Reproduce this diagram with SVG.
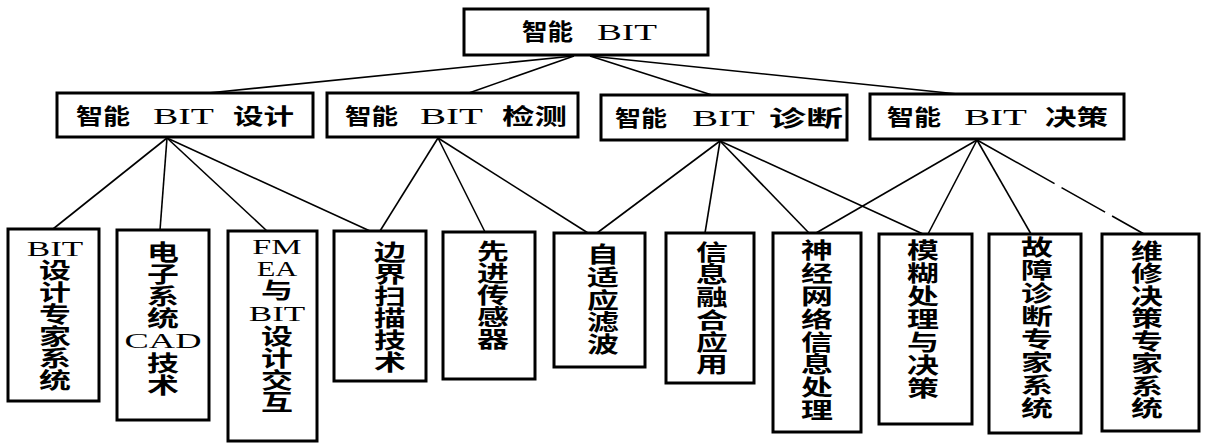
<svg xmlns="http://www.w3.org/2000/svg" width="1208" height="443" viewBox="0 0 1208 443">
<style>
.box{fill:#fff;stroke:#000;stroke-width:3}
.t{font-family:"Liberation Serif","Noto Sans CJK SC",serif;font-weight:700;fill:#000}
.v text{text-anchor:middle}
.l{font-weight:400}
.h{font-size:23px}
.m{font-size:22px}
.v{font-size:22px}
.c{stroke:#000;stroke-width:1.6;fill:none}
</style>
<rect width="1208" height="443" fill="#fff"/>
<g id="connectors">
<line class="c" x1="574" y1="56" x2="208" y2="93"/>
<line class="c" x1="574" y1="56" x2="466" y2="94"/>
<line class="c" x1="590" y1="56" x2="712" y2="95"/>
<line class="c" x1="590" y1="56" x2="977" y2="96"/>
<line class="c" x1="167" y1="138" x2="53" y2="229"/>
<line class="c" x1="167" y1="138" x2="160" y2="230"/>
<line class="c" x1="167" y1="138" x2="267" y2="231"/>
<line class="c" x1="167" y1="138" x2="370" y2="231"/>
<line class="c" x1="438" y1="138" x2="380" y2="231"/>
<line class="c" x1="438" y1="138" x2="485" y2="232"/>
<line class="c" x1="438" y1="138" x2="588" y2="233"/>
<line class="c" x1="720" y1="141" x2="597" y2="233"/>
<line class="c" x1="720" y1="141" x2="705" y2="233"/>
<line class="c" x1="720" y1="141" x2="809" y2="233"/>
<line class="c" x1="720" y1="141" x2="923" y2="234"/>
<line class="c" x1="977" y1="140" x2="816" y2="233"/>
<line class="c" x1="977" y1="140" x2="928" y2="234"/>
<line class="c" x1="977" y1="140" x2="1031" y2="234"/>
<line class="c" x1="977" y1="140" x2="1144" y2="234" stroke-dasharray="89 8 50 8 100"/>
</g>
<g id="root" class="t h"><rect class="box" x="464" y="9" width="244" height="46"/>
<text x="522" y="40" textLength="51" lengthAdjust="spacingAndGlyphs">智能</text>
<text class="l" x="597" y="40" font-size="24" textLength="60" lengthAdjust="spacingAndGlyphs">BIT</text></g>
<g id="design" class="t m"><rect class="box" x="57" y="93" width="256" height="44"/>
<text x="76" y="124" textLength="54" lengthAdjust="spacingAndGlyphs">智能</text>
<text class="l" x="153" y="124" font-size="24" textLength="61" lengthAdjust="spacingAndGlyphs">BIT</text>
<text x="233" y="124" textLength="61" lengthAdjust="spacingAndGlyphs">设计</text></g>
<g id="detect" class="t m"><rect class="box" x="327" y="93" width="251" height="44"/>
<text x="345" y="124" textLength="53" lengthAdjust="spacingAndGlyphs">智能</text>
<text class="l" x="420" y="124" font-size="24" textLength="63" lengthAdjust="spacingAndGlyphs">BIT</text>
<text x="502" y="124" textLength="65" lengthAdjust="spacingAndGlyphs">检测</text></g>
<g id="diagnose" class="t m"><rect class="box" x="601" y="95" width="246" height="45"/>
<text x="615" y="126" textLength="52" lengthAdjust="spacingAndGlyphs">智能</text>
<text class="l" x="692" y="126" font-size="24" textLength="63" lengthAdjust="spacingAndGlyphs">BIT</text>
<text x="769" y="126" textLength="74" lengthAdjust="spacingAndGlyphs">诊断</text></g>
<g id="decide" class="t m"><rect class="box" x="870" y="94" width="254" height="45"/>
<text x="887" y="125" textLength="54" lengthAdjust="spacingAndGlyphs">智能</text>
<text class="l" x="964" y="125" font-size="24" textLength="63" lengthAdjust="spacingAndGlyphs">BIT</text>
<text x="1045" y="125" textLength="63" lengthAdjust="spacingAndGlyphs">决策</text></g>

<g id="leaf1"><rect class="box" x="8" y="229" width="91" height="172"/>
<g transform="translate(55,0) scale(1.45,1)" class="t v">
<text class="l" x="0" y="256" font-size="22" textLength="39" lengthAdjust="spacingAndGlyphs">BIT</text>
<text x="0" y="278">设</text><text x="0" y="300">计</text><text x="0" y="322">专</text><text x="0" y="344">家</text><text x="0" y="366">系</text><text x="0" y="388">统</text>
</g></g>

<g id="leaf2"><rect class="box" x="117" y="230" width="92" height="190"/>
<g transform="translate(163,0) scale(1.45,1)" class="t v">
<text x="0" y="260">电</text><text x="0" y="282">子</text><text x="0" y="304">系</text><text x="0" y="326">统</text>
<text class="l" x="0" y="348" font-size="20" textLength="53" lengthAdjust="spacingAndGlyphs">CAD</text>
<text x="0" y="371">技</text><text x="0" y="393">术</text>
</g></g>

<g id="leaf3"><rect class="box" x="228" y="231" width="89" height="210"/>
<g transform="translate(277,0) scale(1.45,1)" class="t v">
<text class="l" x="0" y="254" font-size="21" textLength="34" lengthAdjust="spacingAndGlyphs">FM</text>
<text class="l" x="0" y="276" font-size="21" textLength="28" lengthAdjust="spacingAndGlyphs">EA</text>
<text x="0" y="298">与</text>
<text class="l" x="0" y="321" font-size="21" textLength="39" lengthAdjust="spacingAndGlyphs">BIT</text>
<text x="0" y="344">设</text><text x="0" y="366">计</text><text x="0" y="388">交</text><text x="0" y="410">互</text>
</g></g>

<g id="leaf4"><rect class="box" x="334" y="231" width="92" height="150"/>
<g transform="translate(390,0) scale(1.45,1)" class="t v">
<text x="0" y="260">边</text><text x="0" y="282">界</text><text x="0" y="304">扫</text><text x="0" y="326">描</text><text x="0" y="348">技</text><text x="0" y="370">术</text>
</g></g>

<g id="leaf5"><rect class="box" x="443" y="232" width="92" height="147"/>
<g transform="translate(493,0) scale(1.45,1)" class="t v">
<text x="0" y="259">先</text><text x="0" y="281">进</text><text x="0" y="303">传</text><text x="0" y="325">感</text><text x="0" y="347">器</text>
</g></g>

<g id="leaf6"><rect class="box" x="554" y="233" width="91" height="134"/>
<g transform="translate(603,0) scale(1.45,1)" class="t v">
<text x="0" y="262">自</text><text x="0" y="285">适</text><text x="0" y="308">应</text><text x="0" y="330">滤</text><text x="0" y="352">波</text>
</g></g>

<g id="leaf7"><rect class="box" x="666" y="233" width="88" height="150"/>
<g transform="translate(712,0) scale(1.45,1)" class="t v">
<text x="0" y="260">信</text><text x="0" y="282">息</text><text x="0" y="305">融</text><text x="0" y="328">合</text><text x="0" y="350">应</text><text x="0" y="372">用</text>
</g></g>

<g id="leaf8"><rect class="box" x="773" y="233" width="88" height="199"/>
<g transform="translate(817,0) scale(1.45,1)" class="t v">
<text x="0" y="258">神</text><text x="0" y="281">经</text><text x="0" y="304">网</text><text x="0" y="327">络</text><text x="0" y="350">信</text><text x="0" y="372">息</text><text x="0" y="395">处</text><text x="0" y="418">理</text>
</g></g>

<g id="leaf9"><rect class="box" x="879" y="234" width="93" height="190"/>
<g transform="translate(923,0) scale(1.45,1)" class="t v">
<text x="0" y="258">模</text><text x="0" y="281">糊</text><text x="0" y="304">处</text><text x="0" y="327">理</text><text x="0" y="350">与</text><text x="0" y="373">决</text><text x="0" y="396">策</text>
</g></g>

<g id="leaf10"><rect class="box" x="989" y="234" width="92" height="199"/>
<g transform="translate(1037,0) scale(1.45,1)" class="t v">
<text x="0" y="255">故</text><text x="0" y="278">障</text><text x="0" y="301">诊</text><text x="0" y="324">断</text><text x="0" y="347">专</text><text x="0" y="370">家</text><text x="0" y="393">系</text><text x="0" y="416">统</text>
</g></g>

<g id="leaf11"><rect class="box" x="1102" y="234" width="97" height="197"/>
<g transform="translate(1147,0) scale(1.45,1)" class="t v">
<text x="0" y="259">维</text><text x="0" y="281">修</text><text x="0" y="304">决</text><text x="0" y="326">策</text><text x="0" y="349">专</text><text x="0" y="371">家</text><text x="0" y="394">系</text><text x="0" y="416">统</text>
</g></g>
</svg>
